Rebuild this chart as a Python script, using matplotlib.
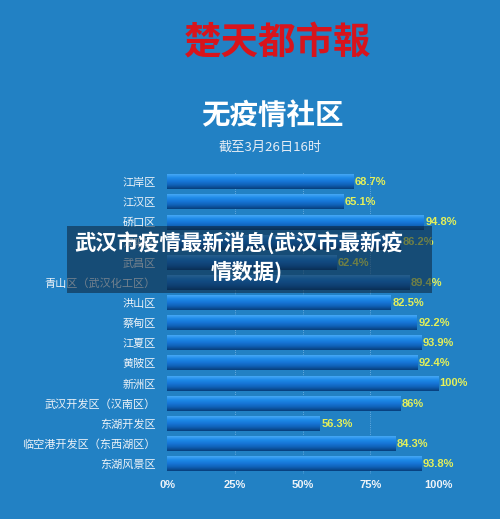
import matplotlib as mpl
mpl.use('Agg')
import matplotlib.pyplot as plt
import numpy as np
from matplotlib.colors import LinearSegmentedColormap
from matplotlib.patches import Rectangle

plt.rcParams['font.family'] = ['Noto Sans CJK SC', 'DejaVu Sans']

districts = ['江岸区', '江汉区', '硚口区', '汉阳区', '武昌区', '青山区（武汉化工区）',
             '洪山区', '蔡甸区', '江夏区', '黄陂区', '新洲区', '武汉开发区（汉南区）',
             '东湖开发区', '临空港开发区（东西湖区）', '东湖风景区']
shares = [68.7, 65.1, 94.8, 86.2, 62.4, 89.4, 82.5, 92.2, 93.9, 92.4, 100, 86,
          56.3, 84.3, 93.8]
share_labels = ['68.7%', '65.1%', '94.8%', '86.2%', '62.4%', '89.4%', '82.5%',
                '92.2%', '93.9%', '92.4%', '100%', '86%', '56.3%', '84.3%', '93.8%']
xticks = [0, 25, 50, 75, 100]
xtick_labels = ['0%', '25%', '50%', '75%', '100%']

bg = '#2281c4'
fig = plt.figure(figsize=(5.0, 5.19), dpi=100, facecolor=bg)
ax = fig.add_axes([0.334, 0.0867, 0.542, 0.582])
ax.set_facecolor('none')

# cylinder-ish shading for the bars
bar_cmap = LinearSegmentedColormap.from_list(
    'bar', ['#45a8f5', '#1e8ae8', '#1675d6', '#0f5fb4', '#083f7c'])
grad = np.linspace(0, 1, 64).reshape(-1, 1)
h = 0.72
n = len(districts)
for i, (v, lab) in enumerate(zip(shares, share_labels)):
    ax.imshow(grad, cmap=bar_cmap, aspect='auto', interpolation='bilinear',
              extent=(0, v, i + h / 2, i - h / 2), origin='upper', zorder=2)
    ax.text(v + 0.6, i, lab, color='#e4f05a', fontsize=8, va='center',
            ha='left', family=['Liberation Sans', 'DejaVu Sans'],
            fontweight='bold', zorder=3)

for x in xticks[1:]:
    ax.axvline(x, color='#7ab6e6', lw=0.6, ls=':', zorder=1)

ax.set_xlim(0, 100)
ax.set_ylim(n - 0.5, -0.5)
ax.set_yticks(range(n))
ax.set_yticklabels(districts, color='#eef3f8', fontsize=8)
ax.set_xticks(xticks)
ax.set_xticklabels(xtick_labels, color='#eef3f8', fontsize=8, fontweight='bold',
                   family=['Liberation Sans', 'DejaVu Sans'])
ax.tick_params(length=0)
ax.tick_params(axis='y', pad=8)
ax.tick_params(axis='x', pad=4)
for s in ax.spines.values():
    s.set_visible(False)

fig.text(0.553, 0.919, '楚天都市報', color='#d8141c', fontsize=27,
         fontweight='bold', ha='center', va='center', style='italic')
fig.text(0.545, 0.7765, '无疫情社区', color='white', fontsize=20.5,
         fontweight='bold', ha='center', va='center')
fig.text(0.54, 0.7168, '截至3月26日16时', color='#e6edf5', fontsize=9.5,
         ha='center', va='center')

# translucent banner on top
fig.patches.append(Rectangle((0.134, 0.4355), 0.73, 0.129, transform=fig.transFigure,
                             facecolor='#0d2236', alpha=0.55, edgecolor='none',
                             zorder=5))
fig.text(0.478, 0.532, '武汉市疫情最新消息(武汉市最新疫', color='white', fontsize=15.4,
         fontweight='heavy', ha='center', va='center', zorder=6)
fig.text(0.494, 0.476, '情数据)', color='white', fontsize=15.4,
         fontweight='heavy', ha='center', va='center', zorder=6)

fig.savefig('out.png', dpi=100, facecolor=bg)
